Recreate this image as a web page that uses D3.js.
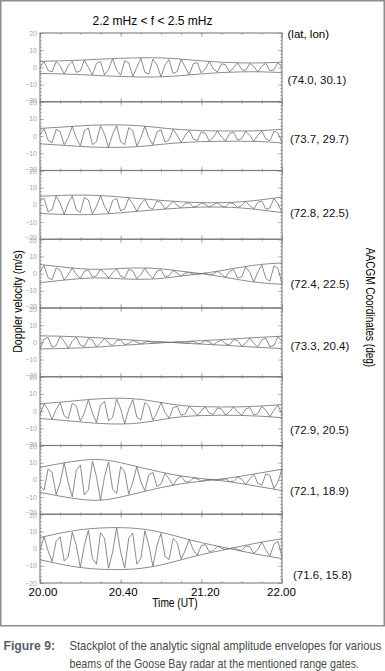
<!DOCTYPE html>
<html>
<head>
<meta charset="utf-8">
<script src="https://cdn.jsdelivr.net/npm/d3@7"></script>
<style>
  body { margin: 0; background: #fff; }
  svg { display: block; }
  text { font-family: "Liberation Sans", Arial, sans-serif; }
</style>
</head>
<body>
<div id="chart"></div>
<script>
// beam positions (AACGM lat, lon), top to bottom
const coordLabels = ["(74.0, 30.1)", "(73.7, 29.7)", "(72.8, 22.5)", "(72.4, 22.5)",
                     "(73.3, 20.4)", "(72.9, 20.5)", "(72.1, 18.9)", "(71.6, 15.8)"];
const timeTickMinutes = [0, 40, 80, 120];           // minutes after 20:00 UT
const timeTickLabels = ["20.00", "20.40", "21.20", "22.00"];
const velocityTicks = [20, 10, 0, -10, -20];

// envelope amplitude (m/s), one value every 10 min from 20:00 to 22:00
const envelope1 = [3.5, 3.8, 4.2, 4.8, 5.3, 5.6, 5.5, 4.8, 3.8, 3.0, 2.6, 2.6, 3.0];
const envelope2 = [4.5, 5.2, 6.0, 6.5, 6.5, 6.0, 4.8, 3.8, 3.2, 3.0, 3.0, 3.2, 4.0];
const envelope3 = [5.0, 5.5, 5.7, 5.4, 4.6, 3.6, 2.6, 1.8, 1.3, 1.3, 1.8, 3.0, 4.5];
const envelope4 = [5.3, 4.0, 2.9, 2.5, 3.0, 3.3, 2.8, 1.4, 0.0, -1.8, -3.8, -5.4, -6.2];
const envelope5 = [3.8, 3.6, 3.2, 2.6, 1.8, 1.0, 0.3, -0.4, -1.0, -1.6, -2.3, -3.0, -3.6];
const envelope6 = [4.3, 5.2, 6.3, 7.2, 7.5, 6.8, 5.0, 3.3, 2.6, 2.4, 2.5, 3.0, 3.8];
const envelope7 = [7.3, 9.5, 11.3, 11.8, 10.0, 7.2, 4.5, 2.3, 0.8, -0.5, -2.2, -4.2, -6.2];
const envelope8 = [6.5, 9.0, 11.0, 12.0, 12.2, 11.5, 9.5, 6.5, 3.5, 1.0, -1.5, -3.8, -5.8];

// filtered doppler velocity (m/s), one sample every 2 min
const signal1 = [0, 3.5, -1.8, -2.6, 3.3, 1.0, -3.9, 1.0, 3.5, -2.9, -2.1, 4.2, 0, -4.4, 2.3, 3.4, -4.3, -1.3, 5.1, -1.4,
                 -4.6, 3.8, 2.7, -5.3, 0, 5.4, -2.8, -3.9, 4.8, 1.4, -5.5, 1.4, 4.5, -3.6, -2.5, 4.7, 0, -4.3, 2.1, 2.8,
                 -3.3, -0.9, 3.5, -0.9, -2.7, 2.1, 1.5, -2.8, 0, 2.6, -1.3, -1.8, 2.3, 0.7, -2.6, 0.7, 2.3, -2.0, -1.4, 2.8, 0];
const signal2 = [0.8, 4.4, -2.4, -3.8, 3.9, 2.6, -5.0, -0.9, 5.7, -1.0, -5.6, 3.1, 4.8, -4.9, -3.2, 6.1, 1.1, -6.5, 1.1, 6.1,
                 -3.3, -4.9, 4.9, 3.1, -5.7, -1.0, 5.8, -0.9, -5.0, 2.5, 3.7, -3.5, -2.2, 3.9, 0.7, -3.8, 0.6, 3.3, -1.7, -2.6,
                 2.5, 1.6, -2.9, -0.5, 3.0, -0.5, -2.8, 1.5, 2.3, -2.3, -1.5, 2.9, 0.5, -3.1, 0.5, 3.0, -1.7, -2.7, 2.8, 1.9, -3.8];
const signal3 = [2.5, 3.9, -4.0, -2.7, 5.1, 0.9, -5.5, 0.9, 5.3, -2.8, -4.4, 4.3, 2.8, -5.2, -0.9, 5.4, -0.9, -4.8, 2.5, 3.7,
                 -3.5, -2.2, 3.9, 0.7, -3.8, 0.6, 3.2, -1.6, -2.3, 2.2, 1.3, -2.3, -0.4, 2.1, -0.3, -1.7, 0.9, 1.2, -1.2, -0.7,
                 1.2, 0.2, -1.3, 0.2, 1.2, -0.7, -1.1, 1.2, 0.8, -1.6, -0.3, 2.0, -0.4, -2.4, 1.4, 2.3, -2.5, -1.8, 3.7, 0.7, -4.5];
const signal4 = [0.9, 4.7, -2.4, -3.5, 3.3, 2.0, -3.6, -0.6, 3.3, -0.5, -2.7, 1.4, 2.1, -2.0, -1.3, 2.4, 0.4, -2.7, 0.5, 2.7,
                 -1.5, -2.4, 2.4, 1.6, -3.0, -0.6, 3.2, -0.5, -2.8, 1.5, 2.2, -1.9, -1.1, 1.8, 0.3, -1.4, 0.2, 0.8, -0.3, -0.2,
                 0, 0.2, -0.7, -0.2, 1.4, -0.3, -2.1, 1.3, 2.3, -2.6, -1.9, 3.9, 0.8, -4.8, 0.9, 5.1, -2.8, -4.4, 4.5, 3.0, -5.8];
const signal5 = [-3.6, 1.9, 2.9, -2.8, -1.8, 3.4, 0.6, -3.4, 0.6, 3.1, -1.6, -2.4, 2.3, 1.4, -2.6, -0.4, 2.4, -0.4, -2.0, 1.0,
                 1.4, -1.3, -0.7, 1.2, 0.2, -1.0, 0.1, 0.7, -0.3, -0.3, 0.2, 0.1, 0, 0, 0.3, -0.1, -0.5, 0.3, 0.6, -0.7,
                 -0.5, 1.1, 0.2, -1.4, 0.3, 1.5, -0.9, -1.4, 1.6, 1.1, -2.2, -0.4, 2.6, -0.5, -2.7, 1.5, 2.4, -2.5, -1.7, 3.3, 0.6];
const signal6 = [-2.2, 4.2, 0.8, -4.8, 0.9, 4.9, -2.7, -4.3, 4.5, 3.0, -5.9, -1.1, 6.7, -1.2, -6.6, 3.6, 5.6, -5.6, -3.7, 7.0,
                 1.3, -7.4, 1.2, 6.7, -3.5, -5.2, 5.0, 3.0, -5.4, -0.9, 5.0, -0.8, -4.1, 2.0, 2.8, -2.5, -1.6, 2.8, 0.5, -2.7,
                 0.4, 2.4, -1.3, -1.9, 1.9, 1.2, -2.3, -0.4, 2.5, -0.4, -2.4, 1.3, 2.1, -2.2, -1.5, 2.8, 0.5, -3.3, 0.6, 3.4, -1.9];
const signal7 = [-3.7, -6.0, 6.3, 4.3, -8.5, -1.6, 9.9, -1.7, -9.9, 5.5, 8.7, -8.8, -5.8, 10.9, 2.0, -11.8, 1.9, 10.4, -5.4, -8.0,
                 7.7, 4.7, -8.3, -1.4, 7.8, -1.2, -6.3, 3.1, 4.3, -3.9, -2.3, 3.8, 0.6, -3.2, 0.5, 2.2, -1.0, -1.3, 1.1, 0.6,
                 -0.8, -0.1, 0.3, 0, -0.2, 0.3, 0.6, -0.9, -0.8, 1.7, 0.4, -2.6, 0.5, 3.2, -1.9, -3.2, 3.5, 2.5, -5.1, -1.0, 6.2];
const signal8 = [-1.1, 7.0, -1.3, -7.5, 4.3, 6.9, -7.2, -4.9, 9.6, 1.8, -11.0, 1.9, 10.7, -5.8, -9.1, 9.2, 6.0, -11.4, -2.1, 12.2,
                 -2.1, -11.3, 6.0, 9.1, -9.0, -5.8, 10.4, 1.8, -10.3, 1.7, 8.9, -4.5, -6.4, 5.9, 3.6, -6.1, -1.0, 5.3, -0.8, -3.9,
                 1.8, 2.3, -1.9, -1.0, 1.4, 0.2, -0.5, 0, 0.5, -0.5, -1.2, 1.5, 1.2, -2.7, -0.6, 3.8, -0.7, -4.3, 2.5, 4.2, -4.5];

const envelopes = [envelope1, envelope2, envelope3, envelope4, envelope5, envelope6, envelope7, envelope8];
const signals = [signal1, signal2, signal3, signal4, signal5, signal6, signal7, signal8];

// label baseline offset from panel centre (px), as placed in the figure
const labelDy = [16.6, 7.2, 12.4, 14.7, 7.6, 22.9, 15.1, 30.7];
const labelDx = [287.5, 290, 290, 290.5, 290.5, 290, 290, 293];


class StackPlot{
    constructor(parentSelector){
        this.parent = d3.select(parentSelector);

        this.wSvg = 385;
        this.hSvg = 671;
        this.margin = { left: 40, right: 103, top: 33, bottom: 88 };
        this.wViz = this.wSvg - this.margin.left - this.margin.right;
        this.hViz = this.hSvg - this.margin.top - this.margin.bottom;
        this.panelH = this.hViz / signals.length;

        this.sampleMin = 2;
        this.knotMin = 10;
        this.lineColor = "#6f6f6f";

        this.init();
    }

    init(){
        this.svg = this.parent.append("svg")
            .attr("width", this.wSvg)
            .attr("height", this.hSvg)
            .attr("viewBox", `0 0 ${this.wSvg} ${this.hSvg}`);

        this.svg.append("rect")
            .attr("x", 0.75).attr("y", 0.75)
            .attr("width", this.wSvg - 1.5).attr("height", 625)
            .attr("fill", "none")
            .attr("stroke", "#8e8e8e")
            .attr("stroke-width", 1.5);

        this.xScale = d3.scaleLinear()
            .domain([0, 120])
            .range([this.margin.left, this.margin.left + this.wViz]);

        signals.forEach((s, i) => this.renderPanel(i));
        this.renderText();
    }

    yScaleFor(i){
        const top = this.margin.top + i * this.panelH;
        return d3.scaleLinear()
            .domain([-20, 20])
            .range([top + this.panelH, top]);
    }

    renderPanel(i){
        const y = this.yScaleFor(i);
        const x = this.xScale;
        const g = this.svg.append("g").attr("class", "panel-" + i);
        const [yBot, yTop] = y.range();

        // ticks, all pointing inwards
        const tickStyle = sel => {
            sel.select(".domain").remove();
            sel.selectAll("line").attr("stroke", "#9a9a9a").attr("stroke-width", 0.7);
        };
        const minorY = d3.range(-20, 21, 2);
        const majorY = [-20, -10, 0, 10, 20];
        const minorX = d3.range(0, 121, 10);

        g.append("g").attr("transform", `translate(${x.range()[0]},0)`)
            .call(d3.axisLeft(y).tickValues(minorY).tickSize(-2).tickFormat("")).call(tickStyle);
        g.append("g").attr("transform", `translate(${x.range()[0]},0)`)
            .call(d3.axisLeft(y).tickValues(majorY).tickSize(-4).tickFormat("")).call(tickStyle);
        g.append("g").attr("transform", `translate(${x.range()[1]},0)`)
            .call(d3.axisRight(y).tickValues(minorY).tickSize(-2).tickFormat("")).call(tickStyle);
        g.append("g").attr("transform", `translate(${x.range()[1]},0)`)
            .call(d3.axisRight(y).tickValues(majorY).tickSize(-4).tickFormat("")).call(tickStyle);
        g.append("g").attr("transform", `translate(0,${yBot})`)
            .call(d3.axisBottom(x).tickValues(minorX).tickSize(-2).tickFormat("")).call(tickStyle);
        g.append("g").attr("transform", `translate(0,${yBot})`)
            .call(d3.axisBottom(x).tickValues(timeTickMinutes).tickSize(-4).tickFormat("")).call(tickStyle);
        g.append("g").attr("transform", `translate(0,${yTop})`)
            .call(d3.axisTop(x).tickValues(minorX).tickSize(-2).tickFormat("")).call(tickStyle);
        g.append("g").attr("transform", `translate(0,${yTop})`)
            .call(d3.axisTop(x).tickValues(timeTickMinutes).tickSize(-4).tickFormat("")).call(tickStyle);

        // y tick labels (light grey, the -20/20 pairs overlap at panel joins as in the original)
        g.selectAll("text.ytick")
            .data(velocityTicks)
            .enter()
            .append("text")
                .attr("class", "ytick")
                .attr("x", x.range()[0] - 3)
                .attr("y", d => y(d) + 2.5 + (d === 20 && i > 0 ? 1 : 0) + (d === -20 && i < signals.length - 1 ? -1.5 : 0))
                .attr("text-anchor", "end")
                .attr("font-size", 7)
                .attr("fill", "#a9a9a9")
                .text(d => d3.format("d")(d));

        // envelope, upper and lower
        const env = envelopes[i];
        const upper = d3.line()
            .x((d, k) => x(k * this.knotMin))
            .y(d => y(d))
            .curve(d3.curveNatural);
        const lower = d3.line()
            .x((d, k) => x(k * this.knotMin))
            .y(d => y(-d))
            .curve(d3.curveNatural);

        g.append("path").attr("d", upper(env))
            .attr("fill", "none").attr("stroke", this.lineColor).attr("stroke-width", 0.8);
        g.append("path").attr("d", lower(env))
            .attr("fill", "none").attr("stroke", this.lineColor).attr("stroke-width", 0.8);

        const sigLine = d3.line()
            .x((d, k) => x(k * this.sampleMin))
            .y(d => y(d));

        g.append("path").attr("d", sigLine(signals[i]))
            .attr("fill", "none").attr("stroke", this.lineColor).attr("stroke-width", 0.8)
            .attr("stroke-linejoin", "miter");

        // panel frame
        g.append("rect")
            .attr("x", x.range()[0]).attr("y", yTop)
            .attr("width", this.wViz).attr("height", this.panelH)
            .attr("fill", "none")
            .attr("stroke", "#7a7a7a")
            .attr("stroke-width", 1.1);

        // beam coordinates
        g.append("text")
            .attr("x", labelDx[i])
            .attr("y", (yTop + yBot) / 2 + labelDy[i])
            .attr("font-size", 11.5)
            .attr("fill", "#111")
            .text(coordLabels[i]);
    }

    // condensed look: regular face squeezed horizontally
    squeezed(x, y, sx, rotate){
        return this.svg.append("text")
            .attr("transform", `translate(${x},${y})` + (rotate ? ` rotate(${rotate})` : "") + ` scale(${sx},1)`);
    }

    renderText(){
        const x = this.xScale;
        const bottom = this.margin.top + this.hViz;

        const xAxis = this.svg.append("g")
            .attr("transform", `translate(0,${bottom})`)
            .call(d3.axisBottom(x)
                .tickValues(timeTickMinutes)
                .tickFormat((d, i) => timeTickLabels[i])
                .tickSize(0)
                .tickPadding(5));
        xAxis.select(".domain").remove();
        xAxis.selectAll("text")
            .attr("font-family", "Liberation Sans, Arial, sans-serif")
            .attr("font-size", 11.5)
            .attr("fill", "#000")
            .attr("dx", (d, i) => [2.5, 2, 3.5, -1][i]);

        this.svg.append("text")
            .attr("x", 152.5).attr("y", 25)
            .attr("text-anchor", "middle")
            .attr("font-size", 12)
            .text("2.2 mHz < f < 2.5 mHz");

        this.svg.append("text")
            .attr("x", 287.5).attr("y", 38)
            .attr("font-size", 11.5)
            .text("(lat, lon)");

        this.squeezed(21.5, 301.5, 0.85, -90)
            .attr("text-anchor", "middle")
            .attr("font-size", 12.5)
            .text("Doppler velocity (m/s)");

        this.squeezed(366, 307.5, 0.8, 90)
            .attr("text-anchor", "middle")
            .attr("font-size", 12.5)
            .text("AACGM Coordinates (deg)");

        this.squeezed(175, 607, 0.85)
            .attr("text-anchor", "middle")
            .attr("font-size", 12)
            .text("Time (UT)");

        // caption
        this.squeezed(3.5, 650, 0.94)
            .attr("font-size", 13)
            .attr("font-weight", "bold")
            .attr("fill", "#56606a")
            .text("Figure 9:");

        this.squeezed(69.5, 650, 0.862)
            .attr("font-size", 13)
            .attr("fill", "#4a4a4a")
            .text("Stackplot of the analytic signal amplitude envelopes for various");

        this.squeezed(69.5, 668, 0.82)
            .attr("font-size", 13)
            .attr("fill", "#4a4a4a")
            .text("beams of the Goose Bay radar at the mentioned range gates.");
    }
}

new StackPlot("#chart");
</script>
</body>
</html>
